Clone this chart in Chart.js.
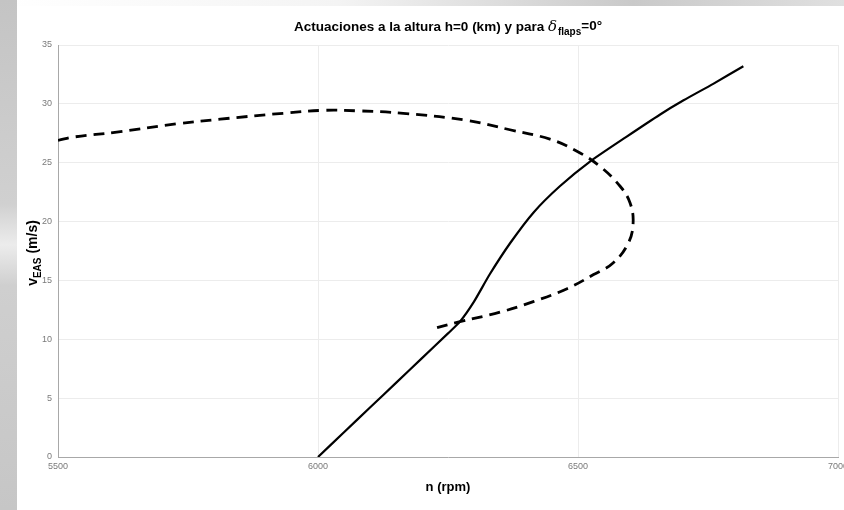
<!DOCTYPE html>
<html>
<head>
<meta charset="utf-8">
<script src="https://cdn.jsdelivr.net/npm/chart.js@4/dist/chart.umd.min.js"></script>
<style>
  html, body { margin: 0; padding: 0; }
  body {
    width: 844px; height: 510px; overflow: hidden;
    background:
      linear-gradient(to bottom, #c4c4c4 0%, #d0d0d0 40%, #ececec 48%, #cfcfcf 56%, #c6c6c6 100%) left top / 17px 100% no-repeat,
      linear-gradient(to right, #ffffff 0%, #f4f4f4 40%, #c9c9c9 75%, #e0e0e0 100%) left top / 100% 6px no-repeat,
      #ffffff;
  }
  #wrap { position: absolute; left: 0; top: 0; width: 844px; height: 510px; }
</style>
</head>
<body>
<div id="wrap"><canvas id="c" width="844" height="510"></canvas></div>
<script>
// ---- data ----
const solidN = [6000, 6050, 6100, 6150, 6200, 6250, 6273, 6300, 6330, 6370, 6415, 6465, 6523, 6593, 6658, 6703, 6760, 6818];
const solidV = [0, 2.1, 4.2, 6.3, 8.4, 10.5, 11.5, 13.2, 15.5, 18.2, 20.8, 23.0, 25.1, 27.2, 29.1, 30.3, 31.7, 33.2];

const dashedN = [5500, 5533, 5613, 5728, 5812, 5933, 6010, 6080, 6164, 6286, 6369, 6446, 6497, 6542, 6581, 6600, 6606, 6597, 6568, 6530, 6479, 6414, 6350, 6273, 6221];
const dashedV = [26.9, 27.2, 27.6, 28.3, 28.7, 29.2, 29.45, 29.4, 29.2, 28.6, 27.8, 27.0, 26.0, 24.7, 23.0, 21.6, 19.9, 18.2, 16.5, 15.5, 14.3, 13.2, 12.3, 11.5, 10.9];

const xMin = 5500, xMax = 7000, xStep = 500;
const yMin = 0, yMax = 35, yStep = 5;

const titleMain = 'Actuaciones a la altura h=0 (km) y para ';
const titleSym = 'δ';
const titleSub = 'flaps';
const titleEnd = '=0°';
const xTitle = 'n (rpm)';
const yTitleMain = 'v';
const yTitleSub = 'EAS';
const yTitleEnd = ' (m/s)';

const toPts = (xs, ys) => xs.map((x, i) => ({ x: x, y: ys[i] }));

const FONT = '"Liberation Sans", Arial, Helvetica, sans-serif';

const textPlugin = {
  id: 'textPlugin',
  afterDraw(chart) {
    const ctx = chart.ctx;
    const a = chart.chartArea;
    const cx = (a.left + a.right) / 2;
    ctx.save();
    ctx.fillStyle = '#000';
    ctx.textBaseline = 'alphabetic';

    // Title
    const fMain = 'bold 13.5px ' + FONT;
    const fSym = 'italic 15px "DejaVu Serif", "Liberation Serif", serif';
    const fSub = 'bold 10px ' + FONT;
    ctx.font = fMain; const w1 = ctx.measureText(titleMain).width;
    ctx.font = fSym; const w2 = ctx.measureText(titleSym).width;
    ctx.font = fSub; const w3 = ctx.measureText(titleSub).width;
    ctx.font = fMain; const w4 = ctx.measureText(titleEnd).width;
    let x = cx - (w1 + w2 + 1 + w3 + w4) / 2;
    const by = 31;
    ctx.textAlign = 'left';
    ctx.font = fMain; ctx.fillText(titleMain, x, by); x += w1;
    ctx.font = fSym; ctx.fillText(titleSym, x, by); x += w2 + 1;
    ctx.font = fSub; ctx.fillText(titleSub, x, by + 4); x += w3;
    ctx.font = fMain; ctx.fillText(titleEnd, x, by - 1);

    // X title
    ctx.font = 'bold 13px ' + FONT;
    ctx.textAlign = 'center';
    ctx.fillText(xTitle, cx, 491);

    // Y title (rotated)
    const fy = 'bold 14px ' + FONT;
    const fys = 'bold 10px ' + FONT;
    ctx.font = fy; const a1 = ctx.measureText(yTitleMain).width;
    ctx.font = fys; const a2 = ctx.measureText(yTitleSub).width;
    ctx.font = fy; const a3 = ctx.measureText(yTitleEnd).width;
    ctx.translate(37, 253);
    ctx.rotate(-Math.PI / 2);
    let yx = -(a1 + a2 + a3) / 2;
    ctx.textAlign = 'left';
    ctx.font = fy; ctx.fillText(yTitleMain, yx, 0); yx += a1;
    ctx.font = fys; ctx.fillText(yTitleSub, yx, 4); yx += a2;
    ctx.font = fy; ctx.fillText(yTitleEnd, yx, 0);
    ctx.restore();
  }
};

new Chart(document.getElementById('c'), {
  type: 'scatter',
  data: {
    datasets: [
      {
        label: 'solid',
        data: toPts(solidN, solidV),
        showLine: true,
        borderColor: '#000',
        borderWidth: 2.2,
        pointRadius: 0,
        tension: 0.2,
        fill: false
      },
      {
        label: 'dashed',
        data: toPts(dashedN, dashedV),
        showLine: true,
        borderColor: '#000',
        borderWidth: 2.8,
        borderDash: [11, 7],
        pointRadius: 0,
        tension: 0.4,
        fill: false
      }
    ]
  },
  options: {
    responsive: false,
    animation: false,
    devicePixelRatio: 1,
    layout: { padding: { top: 45, right: 6, left: 0, bottom: 0 } },
    plugins: { legend: { display: false }, tooltip: { enabled: false }, title: { display: false } },
    scales: {
      x: {
        type: 'linear',
        min: xMin, max: xMax,
        grid: { color: '#ececec', drawTicks: false, lineWidth: 1 },
        border: { color: '#a8a8a8', width: 1 },
        ticks: {
          stepSize: xStep,
          padding: 4,
          color: '#7a7a7a',
          font: { size: 9, family: FONT },
          maxRotation: 0,
          callback: v => String(v)
        },
        afterFit: s => { s.height = 53; s.paddingLeft = 0; s.paddingRight = 0; }
      },
      y: {
        type: 'linear',
        min: yMin, max: yMax,
        grid: { color: '#ececec', drawTicks: false, lineWidth: 1 },
        border: { color: '#a8a8a8', width: 1 },
        ticks: {
          stepSize: yStep,
          padding: 6,
          color: '#7a7a7a',
          font: { size: 9, family: FONT },
          callback: v => String(v)
        },
        afterFit: s => { s.width = 58; s.paddingTop = 0; s.paddingBottom = 0; }
      }
    }
  },
  plugins: [textPlugin]
});
</script>
</body>
</html>
